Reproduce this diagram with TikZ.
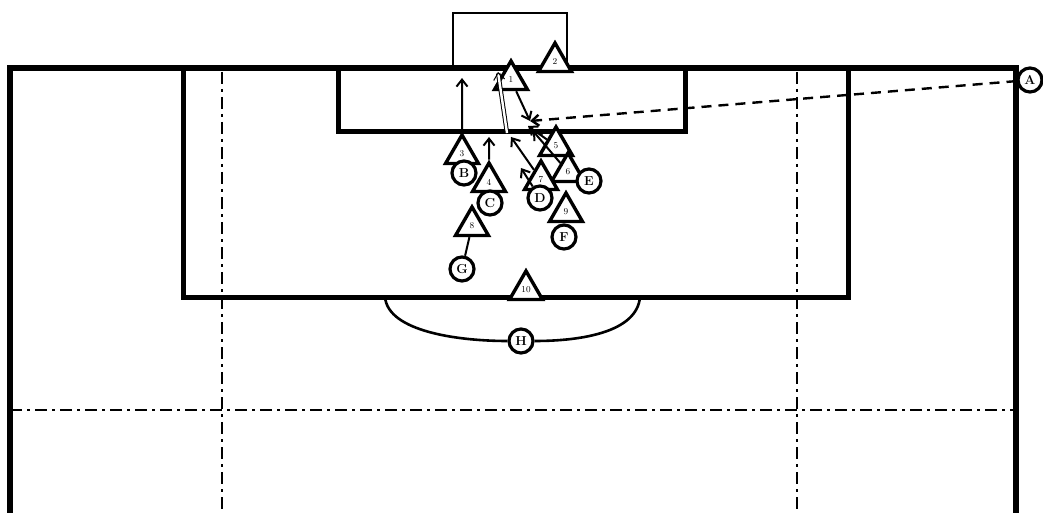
\documentclass[tikz,border=0pt]{standalone}
\usepackage{tikz}
\usetikzlibrary{shapes.geometric,arrows.meta}

\begin{document}
\begin{tikzpicture}[x=1pt,y=-1pt,
  >={Straight Barb[length=7pt,width=11pt]},
  att/.style={draw,line width=3.4pt,fill=white,regular polygon,regular polygon sides=3,
    minimum size=38pt,inner sep=0pt,font=\fontsize{9}{9}\selectfont},
  def/.style={draw,line width=3.2pt,fill=white,circle,minimum size=24pt,inner sep=0pt,
    font=\fontsize{13}{13}\selectfont\bfseries},
  run/.style={line width=2pt,->},
  marker/.style={line width=2pt}]

% keep the page the size of the picture
\useasboundingbox (0,0) rectangle (1043,513);

% half-way and channel lines
\draw[line width=1.8pt,dash pattern=on 12pt off 5pt on 3pt off 5pt] (10,410) -- (1016,410);
\draw[line width=1.8pt,dash pattern=on 12pt off 5pt on 3pt off 5pt] (222,72) -- (222,513);
\draw[line width=1.8pt,dash pattern=on 12pt off 5pt on 3pt off 5pt] (797,72) -- (797,513);

% goal
\draw[line width=1.6pt] (453,68) -- (453,13) -- (567,13) -- (567,68);

% touch lines and goal line
\draw[line width=6pt] (10,513) -- (10,68) -- (1016,68) -- (1016,513);

% penalty box and goal area
\draw[line width=5pt] (183,68) -- (183,297) -- (848,297) -- (848,68);
\draw[line width=5pt] (338,68) -- (338,132) -- (685,132) -- (685,68);

% attackers
\node[att] (a1) at (511,80) {1};
\node[att] (a2) at (555,62) {2};
\node[att] (a3) at (462,154) {3};
\node[att] (a4) at (489,182) {4};
\node[att] (a5) at (556,146) {5};
\node[att] (a6) at (568,172) {6};
\node[att] (a7) at (541,180) {7};
\node[att] (a8) at (472,226) {8};
\node[att] (a9) at (566,212) {9};
\node[att] (a10) at (526,290) {10};

% defenders, on top of the attackers they mark
\node[def] (A) at (1030,80) {A};
\node[def] (B) at (464,173) {B};
\node[def] (C) at (490,203) {C};
\node[def] (D) at (540,198) {D};
\node[def] (E) at (589,181) {E};
\node[def] (F) at (564,237) {F};
\node[def] (G) at (462,269) {G};

% penalty arc with the last defender on it
\node[def] (H) at (521,341) {H};
\draw[line width=2.6pt] (385,297) .. controls (388,332) and (460,341) .. (H.west);
\draw[line width=2.6pt] (H.east) .. controls (582,341) and (637,332) .. (640,297);

% where the ball comes down, and where the runs end
\coordinate (land) at (530,121);
\coordinate (shot) at (498,72);
\coordinate (hit) at (507,133);
\coordinate (end3) at (462,78);
\coordinate (end4) at (489,137);
\coordinate (end7) at (511,137);
\coordinate (endD) at (521,168);
\coordinate (end5) at (528,126);
\coordinate (end6) at (533,131);

% corner kick
\draw[line width=2.4pt,dash pattern=on 10pt off 7pt,->] (A) -- (land);

% header on goal
\draw[line width=1pt,double distance=2.4pt,->] (hit) -- (shot);

% runs
\draw[run] (a1) -- (land);
\draw[run] (a3.north) -- (end3);
\draw[run] (a4.north) -- (end4);
\draw[run] (a7) -- (end7);
\draw[run] (D) -- (endD);
\draw[run] (a5) -- (end5);
\draw[run] (a6) -- (end6);

% marking
\draw[marker] (G) -- (a8);

\end{tikzpicture}
\end{document}
